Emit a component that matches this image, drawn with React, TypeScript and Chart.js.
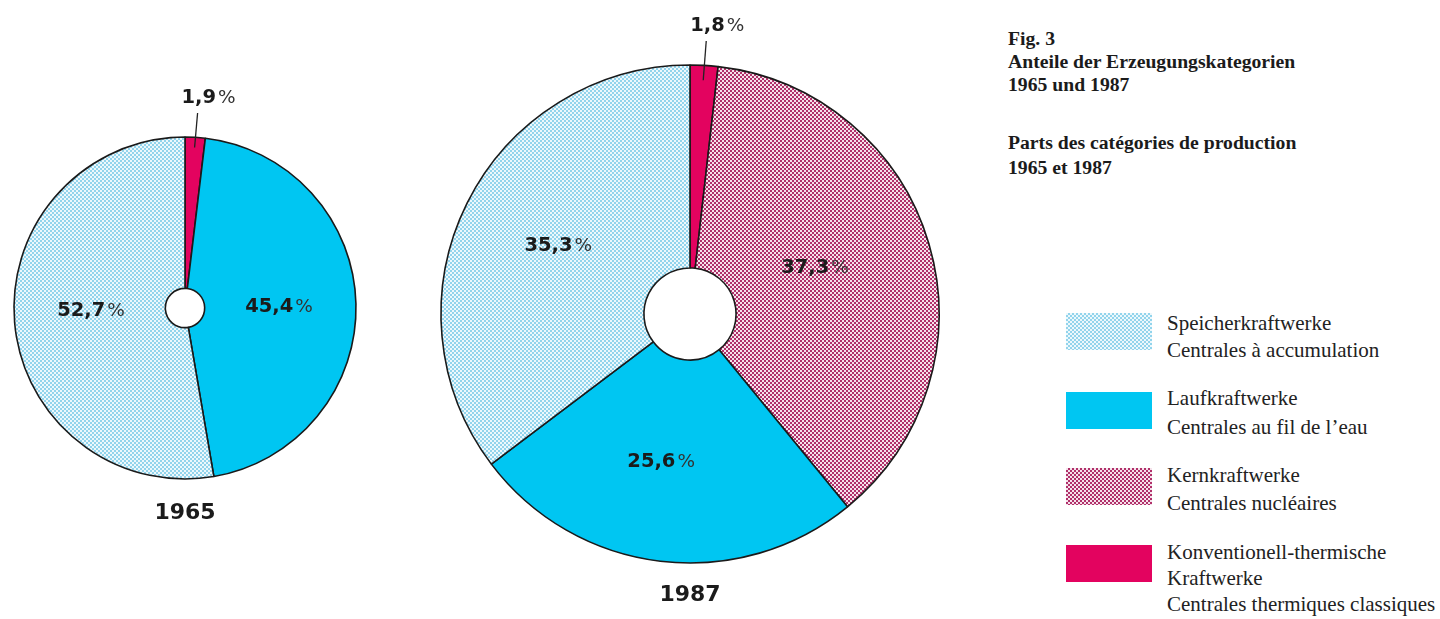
import React, { useEffect, useRef } from "react";
import { Chart, registerables } from "chart.js";

Chart.register(...registerables);

// ---- data ----
const categoryKeys = ["speicher", "lauf", "kern", "thermisch"];
const legendDe = [["Speicherkraftwerke"], ["Laufkraftwerke"], ["Kernkraftwerke"], ["Konventionell-thermische", "Kraftwerke"]];
const legendFr = ["Centrales à accumulation", "Centrales au fil de l’eau", "Centrales nucléaires", "Centrales thermiques classiques"];

const year1965 = "1965";
const keys1965 = ["thermisch", "lauf", "speicher"];
const values1965 = [1.9, 45.4, 52.7];

const year1987 = "1987";
const keys1987 = ["thermisch", "kern", "lauf", "speicher"];
const values1987 = [1.8, 37.3, 25.6, 35.3];

const titleLines = ["Fig. 3", "Anteile der Erzeugungskategorien", "1965 und 1987", "Parts des catégories de production", "1965 et 1987"];

// ---- label placement (fraction of radius, angle offset in degrees) ----
const labelR1965 = [0, 0.55, 0.55];
const labelA1965 = [0, 1, 3];
const labelR1987 = [0, 0.535, 0.605, 0.595];
const labelA1987 = [0, -3.8, 4.2, 0.8];

// ---- styles ----
const COLORS: Record<string, { fg: string; bg: string; solid?: boolean }> = {
  speicher: { fg: "#92d4ec", bg: "#edf8fc" },
  lauf: { fg: "#00c6f2", bg: "#00c6f2", solid: true },
  kern: { fg: "#b0306a", bg: "#f6e2eb" },
  thermisch: { fg: "#e3035f", bg: "#e3035f", solid: true },
};

function makeFill(key: string): string | CanvasPattern {
  const c = COLORS[key];
  if (c.solid) return c.fg;
  const cv = document.createElement("canvas");
  cv.width = 4;
  cv.height = 4;
  const g = cv.getContext("2d")!;
  g.fillStyle = c.bg;
  g.fillRect(0, 0, 4, 4);
  g.fillStyle = c.fg;
  g.fillRect(0, 0, 2, 2);
  g.fillRect(2, 2, 2, 2);
  return g.createPattern(cv, "repeat")!;
}

function cssFill(key: string): string {
  const c = COLORS[key];
  if (c.solid) return c.fg;
  return `repeating-conic-gradient(${c.fg} 0 25%, ${c.bg} 0 50%) 0 0 / 4px 4px`;
}

const fmt = (v: number) => v.toFixed(1).replace(".", ",");

function drawPct(ctx: CanvasRenderingContext2D, num: string, cx: number, cy: number) {
  const fb = "bold 19.5px 'DejaVu Sans'";
  const fr = "18.5px 'DejaVu Sans'";
  ctx.font = fb;
  const w1 = ctx.measureText(num).width;
  ctx.font = fr;
  const w2 = ctx.measureText("%").width;
  const gap = 2;
  const x0 = cx - (w1 + gap + w2) / 2;
  ctx.textBaseline = "middle";
  ctx.textAlign = "left";
  ctx.fillStyle = "#1b1b1b";
  ctx.font = fb;
  ctx.fillText(num, x0, cy);
  ctx.font = fr;
  ctx.fillStyle = "#333";
  ctx.fillText("%", x0 + w1 + gap, cy);
}

const pieLabels = {
  id: "pieLabels",
  afterDatasetsDraw(chart: any, _args: any, opts: any) {
    const ctx: CanvasRenderingContext2D = chart.ctx;
    const meta = chart.getDatasetMeta(0);
    const data: number[] = chart.data.datasets[0].data;
    ctx.save();
    let cx = 0, cy = 0, R = 0;
    meta.data.forEach((arc: any, i: number) => {
      const p = arc.getProps(["x", "y", "startAngle", "endAngle", "outerRadius"], true);
      cx = p.x; cy = p.y; R = p.outerRadius;
      const mid = (p.startAngle + p.endAngle) / 2;
      const val = data[i];
      if (val < 5) {
        const sx = p.x + Math.cos(mid) * R * 0.94;
        const sy = p.y + Math.sin(mid) * R * 0.94;
        const top = p.y - R;
        const ex = sx + 3;
        const ey = top - 24;
        ctx.strokeStyle = "#222";
        ctx.lineWidth = 1.3;
        ctx.beginPath();
        ctx.moveTo(sx, sy);
        ctx.lineTo(ex, ey);
        ctx.stroke();
        drawPct(ctx, fmt(val), ex + 11, top - 39);
      } else {
        const r = R * opts.labelR[i];
        const a = mid + (opts.labelA[i] * Math.PI) / 180;
        drawPct(ctx, fmt(val), p.x + Math.cos(a) * r, p.y + Math.sin(a) * r);
      }
    });
    ctx.font = "bold 22px 'DejaVu Sans'";
    ctx.fillStyle = "#1b1b1b";
    ctx.textAlign = "center";
    ctx.textBaseline = "middle";
    ctx.fillText(opts.year, cx, cy + R + opts.yearGap);
    ctx.restore();
  },
};

function PieChart(props: { keys: string[]; values: number[]; year: string; left: number; top: number; width: number; height: number; radius: number; cutout: string; labelR: number[]; labelA: number[]; yearGap: number }) {
  const ref = useRef<HTMLCanvasElement>(null);
  useEffect(() => {
    const canvas = ref.current!;
    const chart = new Chart(canvas, {
      type: "doughnut",
      data: {
        labels: props.keys,
        datasets: [
          {
            data: props.values,
            backgroundColor: props.keys.map(makeFill),
            borderColor: "#1a1a1a",
            borderWidth: 1.6,
            hoverOffset: 0,
          },
        ],
      },
      options: {
        animation: false,
        responsive: false,
        devicePixelRatio: 1,
        radius: props.radius,
        cutout: props.cutout,
        rotation: 0,
        circumference: 360,
        layout: { padding: 0 },
        events: [],
        plugins: {
          legend: { display: false },
          tooltip: { enabled: false },
          pieLabels: { labelR: props.labelR, labelA: props.labelA, year: props.year, yearGap: props.yearGap },
        } as any,
      } as any,
      plugins: [pieLabels],
    });
    return () => chart.destroy();
  }, []);
  return (
    <canvas
      ref={ref}
      width={props.width}
      height={props.height}
      style={{ position: "absolute", left: props.left, top: props.top, width: props.width, height: props.height }}
    />
  );
}

const titleY = [38, 61, 84, 142, 167];
const legendSwatchTop = [313, 392, 468, 545];
const legendLineY = [[323, 350], [398, 427], [475, 503], [552, 578, 604]];

export default function App() {
  return (
    <div style={{ position: "absolute", left: 0, top: 0, width: 1440, height: 619, overflow: "hidden", background: "#fff" }}>
      <PieChart keys={keys1965} values={values1965} year={year1965} left={0} top={60} width={370} height={496} radius={171} cutout="11.5%" labelR={labelR1965} labelA={labelA1965} yearGap={34} />
      <PieChart keys={keys1987} values={values1987} year={year1987} left={420} top={4} width={540} height={620} radius={249} cutout="18.5%" labelR={labelR1987} labelA={labelA1987} yearGap={32} />
      {titleLines.map((t, i) => (
        <div key={"t" + i} style={{ position: "absolute", left: 1008, top: titleY[i] - 12, height: 24, lineHeight: "24px", fontFamily: "'Liberation Serif', serif", fontWeight: "bold", fontSize: 19.7, color: "#1b1b1b", whiteSpace: "nowrap" }}>
          {t}
        </div>
      ))}
      {categoryKeys.map((k, i) => {
        const lines = [...legendDe[i], legendFr[i]];
        return (
          <React.Fragment key={k}>
            <div style={{ position: "absolute", left: 1066, top: legendSwatchTop[i], width: 86, height: 37, background: cssFill(k) }} />
            {lines.map((l, j) => (
              <div key={j} style={{ position: "absolute", left: 1167, top: legendLineY[i][j] - 13, height: 26, lineHeight: "26px", fontFamily: "'Liberation Serif', serif", fontSize: 21, color: "#222", whiteSpace: "nowrap" }}>
                {l}
              </div>
            ))}
          </React.Fragment>
        );
      })}
    </div>
  );
}
